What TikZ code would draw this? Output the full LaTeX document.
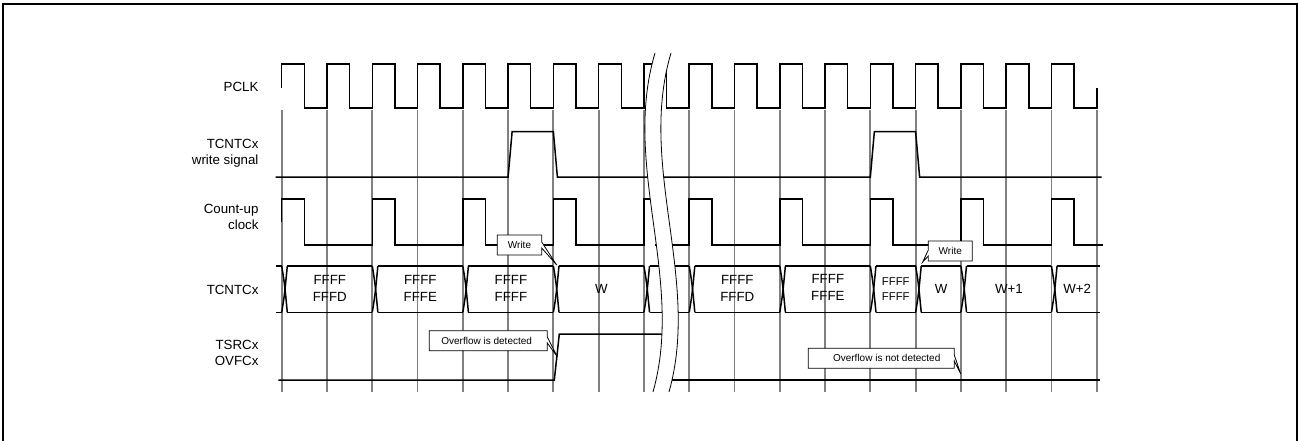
\documentclass[tikz,border=0pt]{standalone}
\usepackage{fontspec}
\setmainfont{Liberation Sans}
\begin{document}
\begin{tikzpicture}[x=1pt,y=-1pt,
  declare function={ek(\k)=281.7+45.28*\k;},
  sig/.style={line width=1.5pt,line join=miter},
  grid/.style={line width=1.8pt,draw=black!50},
  lab/.style={anchor=east,align=right,font=\fontsize{13.3}{16}\selectfont},
  bustxt/.style={align=center,font=\fontsize{13.3}{17.3}\selectfont},
  smalltxt/.style={align=center,font=\fontsize{11.3}{15}\selectfont},
  calltxt/.style={font=\fontsize{10}{12}\selectfont},
  callout/.style={draw=black,fill=white,line width=0.8pt},
  brk/.style={draw=black,line width=0.8pt}]
\useasboundingbox (0,0) rectangle (1298,441);
\begin{scope}
\clip (0,0) rectangle (1298,441);
\draw[line width=2pt] (3,460) -- (3,4) -- (1297.3,4) -- (1297.3,460);
\end{scope}
% gray reference lines
\foreach \k in {0,...,18}{
  \draw[grid] ({ek(\k)},110) -- ({ek(\k)},391.7);
}
% labels
\node[lab] (lpclk) at (262,87) {PCLK};
\node[lab] (lwr) at (262,153.5) {TCNTCx\\write signal};
\node[lab] (lcu) at (262,217) {Count-up\\clock};
\node[lab] (lcnt) at (262,290) {TCNTCx};
\node[lab] (lovf) at (262,353) {TSRCx\\OVFCx};
% PCLK
\draw[sig] ({ek(0)},88) -- ({ek(0)},64)
  \foreach \k in {0,...,7}{ -- ({ek(\k)+22.6},64) -- ({ek(\k)+22.6},108) -- ({ek(\k+1)},108) -- ({ek(\k+1)},64) }
  -- (659,64);
\draw[sig] (657,64) -- (666.7,64) -- (666.7,108) -- ({ek(9)},108) -- ({ek(9)},64)
  \foreach \k in {9,...,16}{ -- ({ek(\k)+22.6},64) -- ({ek(\k)+22.6},108) -- ({ek(\k+1)},108) -- ({ek(\k+1)},64) }
  -- ({ek(17)+22.6},64) -- ({ek(17)+22.6},108) -- ({ek(18)},108) -- ({ek(18)},88);
% write signal
\draw[sig] (275.7,177) -- ({ek(5)},177) -- ({ek(5)+4},131.7) -- ({ek(6)},131.7) -- ({ek(6)+4},177)
  -- ({ek(13)},177) -- ({ek(13)+4},131.7) -- ({ek(14)},131.7) -- ({ek(14)+4},177) -- (1101.7,177);
% count-up clock
\draw[sig] ({ek(0)},222) -- ({ek(0)},199)
  \foreach \k in {0,2,4,6}{ -- ({ek(\k)+22.6},199) -- ({ek(\k)+22.6},245) -- ({ek(\k+2)},245) -- ({ek(\k+2)},199) }
  -- (658,199);
\draw[sig] (655,245) -- ({ek(9)},245) -- ({ek(9)},199)
  \foreach \k in {9,11,13,15}{ -- ({ek(\k)+22.6},199) -- ({ek(\k)+22.6},245) -- ({ek(\k+2)},245) -- ({ek(\k+2)},199) }
  -- ({ek(17)+22.6},199) -- ({ek(17)+22.6},245) -- (1103.3,245);
% TCNTCx bus
\def\bt{266}\def\bb{312.3}\def\hw{2.8}
\foreach \k in {0,2,4,6,8,9,11,13,14,15,17}{
  \draw[sig] ({ek(\k)+2.8-\hw},\bt) .. controls ({ek(\k)+2.8},{(\bt+\bb)/2-6}) .. ({ek(\k)+2.8+\hw},\bb);
  \draw[sig] ({ek(\k)+2.8-\hw},\bb) .. controls ({ek(\k)+2.8},{(\bt+\bb)/2+6}) .. ({ek(\k)+2.8+\hw},\bt);
}
\foreach \a/\b in {0/2,2/4,4/6,6/8,8/9,9/11,11/13,13/14,14/15,15/17}{
  \draw[sig] ({ek(\a)+2.8+\hw},\bt) -- ({ek(\b)+2.8-\hw},\bt);
  \draw[sig] ({ek(\a)+2.8+\hw},\bb) -- ({ek(\b)+2.8-\hw},\bb);
}
\draw[sig] (275.7,\bt) -- ({ek(0)},\bt);
\draw[sig] (275.7,\bb) -- ({ek(0)},\bb);
\draw[sig] ({ek(17)+5.6},\bt) -- (1100,\bt);
\draw[sig] ({ek(17)+5.6},\bb) -- (1100,\bb);
% TSRCx OVFCx
\draw[sig] (278.3,380) -- (554.3,380) -- (559.3,334) -- (669,334);
\draw[sig] (662,380) -- (1100,380);
% break
\fill[white] (655,53) .. controls (621.4,166) and (684.8,279) .. (653,392)
  -- (669,392) .. controls (700.8,279) and (637.4,166) .. (671,53) -- cycle;
\draw[brk] (655,53) .. controls (621.4,166) and (684.8,279) .. (653,392);
\draw[brk] (671,53) .. controls (637.4,166) and (700.8,279) .. (669,392);
% bus values
\node[bustxt] (v1) at ({(ek(0)+ek(2))/2+2.8},288.7) {FFFF\\FFFD};
\node[bustxt] (v2) at ({(ek(2)+ek(4))/2+2.8},288.7) {FFFF\\FFFE};
\node[bustxt] (v3) at ({(ek(4)+ek(6))/2+2.8},288.7) {FFFF\\FFFF};
\node[bustxt] (v4) at ({(ek(6)+ek(8))/2+2.8},289) {W};
\node[bustxt] (v5) at ({(ek(9)+ek(11))/2+2.8},288.7) {FFFF\\FFFD};
\node[bustxt] (v6) at ({(ek(11)+ek(13))/2+2.8},287.5) {FFFF\\FFFE};
\node[smalltxt] (v7) at ({(ek(13)+ek(14))/2+2.8},289) {FFFF\\FFFF};
\node[bustxt] (v8) at ({(ek(14)+ek(15))/2+2.8},289) {W};
\node[bustxt] (v9) at ({(ek(15)+ek(17))/2+2.8},289) {W+1};
\node[bustxt] (v10) at ({(ek(17)+1100)/2+1.4},289) {W+2};
% callouts
\draw[callout] (497.3,235) -- (541.7,235) -- (541.7,242) -- (556.7,265) -- (541.7,248) -- (541.7,255) -- (497.3,255) -- cycle;
\node[calltxt] (c1) at (519.5,245) {Write};
\draw[callout] (928.3,241) -- (972.3,241) -- (972.3,261) -- (928.3,261) -- (928.3,256) -- (922.7,262) -- (928.3,250) -- cycle;
\node[calltxt] (c2) at (950.3,251) {Write};
\draw[callout] (429.3,330.7) -- (547.3,330.7) -- (547.3,337) -- (557.3,356.7) -- (547.3,343) -- (547.3,350.7) -- (429.3,350.7) -- cycle;
\node[calltxt] (c3) at (486.7,340.7) {Overflow is detected};
\draw[callout] (808.3,348.3) -- (954.3,348.3) -- (954.3,355) -- (960.7,374) -- (954.3,361) -- (954.3,368.3) -- (808.3,368.3) -- cycle;
\node[calltxt] (c4) at (886.7,358.3) {Overflow is not detected};
\end{tikzpicture}
\end{document}
